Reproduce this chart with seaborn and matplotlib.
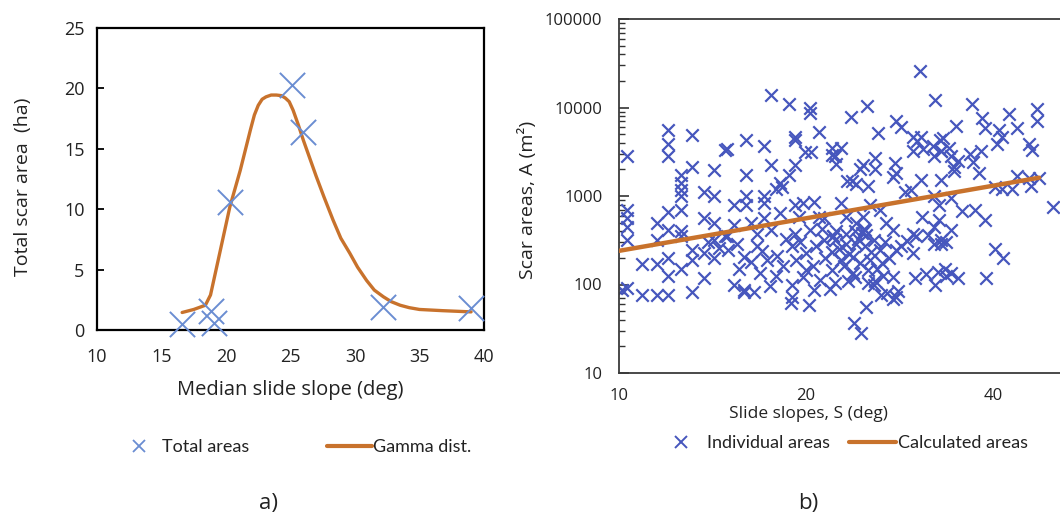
import numpy as np
import pandas as pd
import matplotlib
matplotlib.use("Agg")
import matplotlib.pyplot as plt
from matplotlib.lines import Line2D
from matplotlib.ticker import LogLocator, NullFormatter, FixedLocator
import seaborn as sns

# ---------------- data: panel a ----------------
total_slope = [16.6, 18.8, 19.1, 20.3, 25.1, 26.0, 32.2, 39.0]
total_area = [0.5, 1.6, 0.6, 10.6, 20.3, 16.4, 1.9, 1.8]

gamma_slope = [16.6, 17.5, 18.4, 18.8, 19.5, 20.3, 21.1, 21.9, 22.2, 22.5, 22.8,
               23.1, 23.5, 23.9, 24.3, 24.6, 24.9, 25.2, 25.6, 26.0, 26.5, 27.0,
               27.6, 28.3, 28.9, 29.6, 30.2, 30.9, 31.5, 32.2, 32.8, 33.5, 34.2,
               35.0, 36.8, 39.0]
gamma_area = [1.45, 1.7, 2.05, 2.9, 6.3, 10.2, 13.2, 16.6, 17.8, 18.6, 19.1,
              19.3, 19.45, 19.45, 19.4, 19.2, 18.9, 18.2, 17.0, 15.7, 14.2, 12.7,
              11.0, 9.1, 7.6, 6.35, 5.2, 4.1, 3.3, 2.75, 2.35, 2.05, 1.85,
              1.7, 1.6, 1.5]

# ---------------- data: panel b ----------------
ind_slope = [
    10.3, 10.3, 10.3, 10.3, 10.3, 10.3, 10.1, 10.9, 11.5, 10.9, 11.5, 12.0, 11.5, 11.5,
    12.0, 12.0, 12.0, 12.0, 12.0, 12.0, 12.0, 12.6, 12.6, 12.6, 12.6, 12.6, 12.6, 12.6, 12.6,
    13.1, 13.1, 13.1, 13.1, 13.1, 13.7, 13.7, 13.7, 13.7, 14.2, 14.2, 14.2, 14.2, 14.2,
    14.8, 14.8,
    17.6, 18.8, 20.3, 20.3, 21.0, 19.2, 19.2, 16.0, 17.1, 14.9, 19.9, 20.4, 22.0, 22.0,
    17.6, 19.2, 16.0, 18.8, 18.2, 18.3, 16.0, 17.1, 20.6, 15.3, 16.0, 17.1, 19.2, 19.8,
    18.2, 21.4, 17.1, 15.3, 16.3, 17.6, 19.2, 20.3, 14.9, 15.5, 21.4, 22.1, 16.7, 19.0,
    15.0, 15.9, 17.3, 19.3, 20.0, 22.0, 18.4, 20.0, 15.3, 15.9, 15.9, 16.5, 17.5, 19.0,
    19.0, 20.6, 18.9, 20.2, 21.1, 16.9, 17.9, 22.0, 16.7, 19.5, 21.0, 17.9,
    30.5, 32.3, 25.1, 23.6, 26.1, 27.9, 28.5, 29.8, 30.2, 30.7, 32.0, 32.9, 33.0, 32.2,
    30.9, 29.8, 22.8, 22.3, 22.4, 24.7, 24.4, 23.7, 23.3, 24.1, 25.8, 25.8, 27.8, 27.6,
    27.9, 29.5, 30.7, 28.9, 33.0, 32.2, 22.8, 25.4, 26.9, 27.6, 24.9, 24.1, 22.4, 22.1,
    23.2, 24.9, 25.7, 29.8, 30.1, 32.2, 32.2, 33.0, 27.9, 22.8, 24.4, 25.4, 26.5, 23.8,
    22.3, 21.9, 25.2, 25.7, 27.6, 28.1, 27.0, 27.6, 30.0, 32.3, 25.0, 23.9, 24.5, 26.4,
    27.9, 24.1, 23.2, 24.7, 26.3, 30.8, 32.8, 32.8, 26.3, 29.8, 25.2, 22.3, 23.2, 25.2,
    23.8,
    37.0, 47.1, 42.4, 47.1, 38.4, 34.9, 38.8, 40.9, 43.7, 33.2, 41.4, 40.6, 45.7, 46.2,
    33.0, 34.3, 35.2, 36.7, 38.3, 37.2, 34.7, 34.7, 34.0, 38.0, 40.4, 41.4, 42.9, 43.7,
    45.7, 47.4, 46.0, 50.0, 34.3, 37.5, 35.7, 38.8, 34.3, 33.6, 40.3, 41.6, 34.3, 33.6,
    35.2, 39.0, 33.0,
    18.6, 19.6, 20.8, 21.5, 22.6, 23.0, 23.5, 24.0, 24.3, 24.6, 24.8, 25.0, 25.5, 26.0,
    26.8, 27.2, 21.2, 20.5, 19.8, 18.0, 17.0, 16.3, 15.6, 14.5, 13.9, 23.4, 24.0, 25.8,
    26.6, 28.5, 29.1, 31.5, 31.2, 33.5, 32.6,
]
ind_area = [
    2800, 695, 565, 445, 318, 92, 87, 170, 170, 76, 76, 76, 500, 318,
    5570, 3900, 2800, 660, 413, 200, 125, 1720, 1400, 1170, 1000, 695, 400, 350, 150,
    4900, 2130, 245, 190, 83, 1100, 560, 225, 118, 1970, 1000, 490, 318, 200,
    3300, 350,
    13800, 11000, 9800, 8600, 5350, 4700, 4300, 4300, 3700, 3400, 3130, 3130, 3500, 2900,
    2240, 2240, 1720, 1720, 1400, 1280, 1000, 1000, 860, 790, 790, 830, 790, 830,
    640, 560, 560, 470, 490, 413, 370, 413, 350, 290, 318, 350, 270, 270,
    245, 205, 190, 190, 225, 230, 160, 146, 98, 87, 82, 82, 96, 98,
    73, 87, 62, 58, 112, 135, 125, 146, 370, 580, 580, 1200,
    25900, 12200, 10300, 7800, 5100, 7050, 6000, 4700, 4200, 4700, 3700, 4300, 3200, 2800,
    3400, 3200, 3500, 2800, 2300, 2240, 2000, 1470, 1470, 1350, 2700, 2000, 2350, 1650,
    1800, 1170, 1500, 1100, 1500, 1000, 830, 800, 490, 410, 410, 490, 400, 350,
    290, 270, 318, 375, 350, 450, 290, 318, 245, 190, 175, 190, 175, 135,
    103, 90, 103, 98, 120, 85, 80, 68, 118, 100, 56, 37, 28, 77,
    72, 290, 580, 580, 700, 580, 540, 800, 245, 225, 1300, 318, 370, 145,
    205,
    11000, 9600, 8400, 7000, 7700, 6100, 5800, 5600, 5800, 4500, 4700, 3900, 3900, 3300,
    3200, 2800, 2500, 3000, 3200, 2400, 1900, 2100, 3500, 1800, 1270, 1200, 1200, 1700,
    1600, 1600, 1300, 760, 950, 700, 680, 530, 410, 300, 250, 200, 135, 125,
    118, 118, 290,
    330, 300, 270, 200, 250, 160, 220, 400, 330, 380, 420, 360, 230, 150,
    300, 200, 420, 160, 120, 210, 240, 180, 150, 260, 300, 110, 120, 110,
    125, 270, 310, 360, 130, 150, 140,
]

calc_slope = [10.0, 47.5]
calc_area = [240, 1610]

# ---------------- style ----------------
sns.set_theme(style="white")
plt.rcParams["font.family"] = ["Open Sans", "DejaVu Sans"]
plt.rcParams["axes.unicode_minus"] = False

blue_a = "#6a8dd2"
blue_b = "#4656bd"
orange = "#c8722c"
txt = "#222222"

W, H = 1060, 521
fig = plt.figure(figsize=(W / 100, H / 100), dpi=100)


def px_axes(left, top, right, bottom):
    return fig.add_axes([left / W, 1 - bottom / H, (right - left) / W, (bottom - top) / H])


# ---------------- panel a ----------------
ax1 = px_axes(97, 28, 484, 330)
df_a = pd.DataFrame({"slope": total_slope, "area": total_area})
df_g = pd.DataFrame({"slope": gamma_slope, "area": gamma_area})
sns.lineplot(data=df_g, x="slope", y="area", ax=ax1, color=orange, linewidth=2.4,
             estimator=None, sort=False, legend=False, zorder=2)
sns.scatterplot(data=df_a, x="slope", y="area", ax=ax1, marker="x", s=330,
                color=blue_a, linewidth=1.4, legend=False, zorder=3, clip_on=False)
ax1.set_xlim(10, 40)
ax1.set_ylim(0, 25)
ax1.set_xticks(np.arange(10, 41, 5))
ax1.set_yticks(np.arange(0, 26, 5))
ax1.tick_params(axis="x", length=0, labelsize=13, colors=txt, pad=13)
ax1.tick_params(axis="y", direction="in", length=5, width=1.3, color="black",
                labelsize=13, labelcolor=txt, pad=9, left=True)
for sp in ax1.spines.values():
    sp.set_visible(True)
    sp.set_color("black")
    sp.set_linewidth(1.6)
ax1.set_xlabel("Median slide slope (deg)", fontsize=14.5, color=txt)
ax1.set_ylabel("Total scar area  (ha)", fontsize=14, color=txt)
ax1.xaxis.set_label_coords(0.5, -0.165)
ax1.yaxis.set_label_coords(-0.168, 0.474)

# ---------------- panel b ----------------
ax2 = px_axes(619, 19, 1062, 373)
df_b = pd.DataFrame({"slope": ind_slope, "area": ind_area})
df_c = pd.DataFrame({"slope": calc_slope, "area": calc_area})
sns.scatterplot(data=df_b, x="slope", y="area", ax=ax2, marker="x", s=80,
                color=blue_b, linewidth=1.6, legend=False, zorder=2)
sns.lineplot(data=df_c, x="slope", y="area", ax=ax2, color=orange, linewidth=3.2,
             estimator=None, sort=False, legend=False, zorder=3)
ax2.set_xscale("log")
ax2.set_yscale("log")
ax2.set_xlim(10, 51.7)
ax2.set_ylim(10, 100000)
ax2.xaxis.set_major_locator(FixedLocator([10, 20, 40]))
ax2.xaxis.set_minor_locator(FixedLocator([]))
ax2.set_xticklabels(["10", "20", "40"])
ax2.xaxis.set_minor_formatter(NullFormatter())
ax2.yaxis.set_major_locator(FixedLocator([10, 100, 1000, 10000, 100000]))
ax2.set_yticklabels(["10", "100", "1000", "10000", "100000"])
ax2.yaxis.set_minor_locator(LogLocator(base=10, subs=np.arange(2, 10), numticks=20))
ax2.yaxis.set_minor_formatter(NullFormatter())
ax2.tick_params(axis="x", which="both", length=0, labelsize=12, pad=11, colors=txt)
ax2.tick_params(axis="y", which="major", direction="in", length=7, width=1.2,
                color="#333333", labelsize=12, pad=12, labelcolor=txt, left=True)
ax2.tick_params(axis="y", which="minor", direction="in", length=4, width=1.0,
                color="#333333", left=True)
for name, sp in ax2.spines.items():
    sp.set_visible(name != "right")
    sp.set_color("#3a3a3a")
    sp.set_linewidth(1.3)
ax2.set_xlabel("Slide slopes, S (deg)", fontsize=12.5, color=txt)
ax2.set_ylabel("Scar areas, A (m\u00b2)", fontsize=14, color=txt)
ax2.xaxis.set_label_coords(0.427, -0.093)
ax2.yaxis.set_label_coords(-0.185, 0.49)

# ---------------- legends ----------------
leg_font = {"family": ["Lato", "DejaVu Sans"], "size": 13}
h_a = [Line2D([], [], linestyle="none", marker="x", markersize=9, markeredgewidth=1.3,
              color=blue_a),
       Line2D([], [], color=orange, linewidth=3)]
fig.legend(h_a, ["Total areas", "Gamma dist."], loc="center",
           bbox_to_anchor=(294 / W, 1 - 447 / H), ncol=2, frameon=False,
           prop=leg_font, handlelength=2.5, handletextpad=0.05, columnspacing=4.3,
           labelcolor=txt)
h_b = [Line2D([], [], linestyle="none", marker="x", markersize=8, markeredgewidth=1.4,
              color=blue_b),
       Line2D([], [], color=orange, linewidth=3)]
fig.legend(h_b, ["Individual areas", "Calculated areas"], loc="center",
           bbox_to_anchor=(843 / W, 1 - 443 / H), ncol=2, frameon=False,
           prop=leg_font, handlelength=2.6, handletextpad=0.1, columnspacing=1.1,
           labelcolor=txt)

fig.text(268 / W, 1 - 503 / H, "a)", ha="center", va="center", fontsize=16, color=txt)
fig.text(808 / W, 1 - 503 / H, "b)", ha="center", va="center", fontsize=16, color=txt)

fig.savefig("out.png", dpi=100)
